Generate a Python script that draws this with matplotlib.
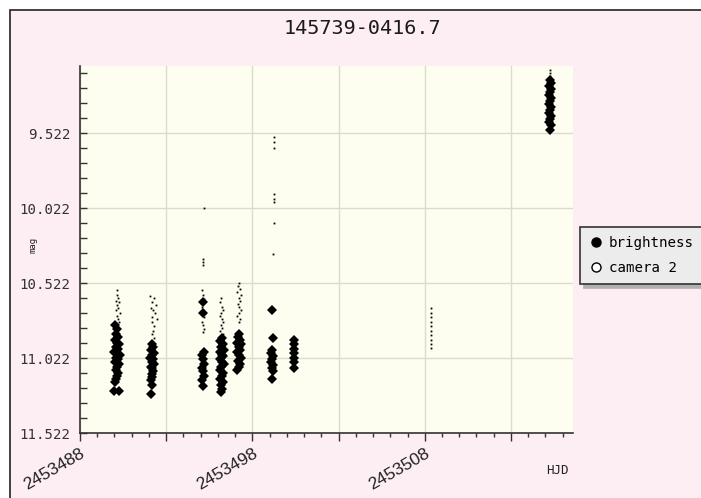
import matplotlib
matplotlib.use("Agg")
import matplotlib.pyplot as plt
from matplotlib.patches import Rectangle
from matplotlib.lines import Line2D
from matplotlib.ticker import MultipleLocator, FuncFormatter

# Photometry of 145739-0416.7
brightness_hjd = [
    2453490.05, 2453490.15, 2453490.10, 2453490.20, 2453490.05, 2453490.15, 2453490.25, 2453490.10,
    2453490.20, 2453490.00, 2453490.15, 2453490.30, 2453490.10, 2453490.20, 2453490.05, 2453490.25,
    2453490.15, 2453490.10, 2453490.20, 2453490.15, 2453490.10, 2453490.05, 2453490.00, 2453490.25,
    2453492.15, 2453492.25, 2453492.10, 2453492.30, 2453492.20, 2453492.05, 2453492.25, 2453492.15,
    2453492.30, 2453492.10, 2453492.20, 2453492.25, 2453492.15, 2453492.20, 2453492.10, 2453492.20, 2453492.10,
    2453495.15, 2453495.15, 2453495.20, 2453495.10, 2453495.15, 2453495.20, 2453495.10, 2453495.15,
    2453495.20, 2453495.10, 2453495.15,
    2453496.25, 2453496.15, 2453496.30, 2453496.20, 2453496.35, 2453496.10, 2453496.25, 2453496.30,
    2453496.15, 2453496.25, 2453496.35, 2453496.20, 2453496.10, 2453496.30, 2453496.25, 2453496.15,
    2453496.30, 2453496.20, 2453496.25, 2453496.20,
    2453497.25, 2453497.15, 2453497.30, 2453497.10, 2453497.35, 2453497.20, 2453497.30, 2453497.10,
    2453497.25, 2453497.35, 2453497.15, 2453497.30, 2453497.20, 2453497.10,
    2453499.15, 2453499.20, 2453499.15, 2453499.10, 2453499.20, 2453499.15, 2453499.10, 2453499.20,
    2453499.15, 2453499.20, 2453499.15,
    2453500.40, 2453500.40, 2453500.40, 2453500.40, 2453500.40, 2453500.40, 2453500.40,
    2453515.25, 2453515.30, 2453515.20, 2453515.30, 2453515.25, 2453515.20, 2453515.30, 2453515.25,
    2453515.20, 2453515.30, 2453515.25, 2453515.20, 2453515.30, 2453515.25, 2453515.20, 2453515.30, 2453515.25,
]
brightness_mag = [
    10.80, 10.83, 10.86, 10.88, 10.90, 10.92, 10.93, 10.95,
    10.96, 10.98, 10.99, 11.00, 11.02, 11.03, 11.05, 11.06,
    11.08, 11.10, 11.12, 11.14, 11.16, 11.18, 11.24, 11.24,
    10.93, 10.95, 10.97, 10.99, 11.00, 11.02, 11.03, 11.05,
    11.06, 11.08, 11.09, 11.11, 11.13, 11.15, 11.17, 11.20, 11.26,
    10.65, 10.72, 10.98, 11.00, 11.03, 11.06, 11.09, 11.11,
    11.14, 11.17, 11.21,
    10.89, 10.91, 10.93, 10.95, 10.97, 10.98, 11.00, 11.01,
    11.03, 11.05, 11.06, 11.08, 11.10, 11.12, 11.14, 11.16,
    11.18, 11.20, 11.23, 11.25,
    10.86, 10.88, 10.90, 10.92, 10.93, 10.95, 10.97, 10.98,
    11.00, 11.02, 11.04, 11.06, 11.08, 11.10,
    10.70, 10.89, 10.97, 10.99, 11.01, 11.03, 11.05, 11.07,
    11.09, 11.11, 11.16,
    10.90, 10.93, 10.96, 10.99, 11.02, 11.05, 11.09,
    9.17, 9.19, 9.21, 9.23, 9.25, 9.27, 9.29, 9.31,
    9.33, 9.35, 9.37, 9.39, 9.41, 9.43, 9.45, 9.47, 9.50,
]

camera2_hjd = [
    2453490.15, 2453490.15, 2453490.20, 2453490.10, 2453490.25, 2453490.15, 2453490.20, 2453490.10,
    2453490.30, 2453490.15, 2453490.20, 2453490.25, 2453490.10, 2453490.20,
    2453492.05, 2453492.30, 2453492.15, 2453492.40, 2453492.10, 2453492.25, 2453492.35, 2453492.20,
    2453492.45, 2453492.15, 2453492.30, 2453492.25, 2453492.20, 2453492.30, 2453492.25,
    2453495.20, 2453495.15, 2453495.15, 2453495.15,
    2453495.10, 2453495.15, 2453495.20, 2453495.10, 2453495.15, 2453495.20, 2453495.10, 2453495.15,
    2453495.20, 2453495.15,
    2453496.20, 2453496.15, 2453496.25, 2453496.30, 2453496.20, 2453496.15, 2453496.25, 2453496.30,
    2453496.20, 2453496.25, 2453496.15, 2453496.30, 2453496.25,
    2453497.25, 2453497.15, 2453497.30, 2453497.10, 2453497.35, 2453497.20, 2453497.30, 2453497.15,
    2453497.25, 2453497.35, 2453497.20, 2453497.10, 2453497.30, 2453497.25,
    2453499.25, 2453499.25, 2453499.25, 2453499.25, 2453499.25, 2453499.25, 2453499.25, 2453499.20,
    2453508.35, 2453508.35, 2453508.35, 2453508.35, 2453508.35, 2453508.35, 2453508.35, 2453508.35,
    2453508.35, 2453508.35,
    2453515.25, 2453515.25, 2453515.25,
]
camera2_mag = [
    10.57, 10.60, 10.62, 10.64, 10.65, 10.67, 10.69, 10.70,
    10.72, 10.74, 10.76, 10.78, 10.80, 10.82,
    10.61, 10.62, 10.65, 10.67, 10.69, 10.70, 10.72, 10.75,
    10.76, 10.78, 10.81, 10.84, 10.86, 10.89, 10.92,
    10.02, 10.36, 10.38, 10.40,
    10.57, 10.60, 10.63, 10.68, 10.70, 10.75, 10.78, 10.80,
    10.83, 10.85,
    10.62, 10.65, 10.68, 10.70, 10.72, 10.74, 10.76, 10.78,
    10.80, 10.82, 10.84, 10.86, 10.88,
    10.52, 10.54, 10.56, 10.58, 10.60, 10.62, 10.64, 10.66,
    10.68, 10.70, 10.72, 10.74, 10.76, 10.78,
    9.55, 9.58, 9.62, 9.93, 9.96, 9.98, 10.12, 10.33,
    10.69, 10.72, 10.75, 10.78, 10.81, 10.84, 10.87, 10.90,
    10.93, 10.955,
    9.10, 9.12, 9.14,
]

title = "145739-0416.7"
x_major_ticks = [2453488, 2453493, 2453498, 2453503, 2453508, 2453513]
x_tick_labels = ["2453488", "", "2453498", "", "2453508", ""]

W, H = 701, 498
fig = plt.figure(figsize=(W / 100, H / 100), dpi=100)
fig.patch.set_facecolor("white")

# pink panel with a dark frame
panel = Rectangle((10 / W, -0.1), 1.2, 1.1 - 10 / H, transform=fig.transFigure,
                  facecolor="#fdeef3", edgecolor="#222222", linewidth=1.2, zorder=-10)
fig.patches.append(panel)

ax = fig.add_axes([80 / W, 1 - 433 / H, (573 - 80) / W, (433 - 66) / H])
ax.set_facecolor("#fefef0")

ax.plot(camera2_hjd, camera2_mag, linestyle="none", marker="s", markersize=1.3,
        markeredgewidth=0, color="black", zorder=3)
ax.plot(brightness_hjd, brightness_mag, linestyle="none", marker="D", markersize=4.6,
        markeredgewidth=0, color="black", zorder=4)

ax.set_xlim(2453488, 2453516.6)
ax.set_ylim(11.522, 9.075)

ax.set_xticks(x_major_ticks)
ax.set_xticklabels(x_tick_labels, rotation=30, ha="right", va="top",
                   rotation_mode="anchor", fontfamily="Liberation Sans",
                   fontsize=12.5, color="#222222")
ax.xaxis.set_minor_locator(MultipleLocator(1))
ax.yaxis.set_major_locator(MultipleLocator(0.5, offset=0.022))
ax.yaxis.set_minor_locator(MultipleLocator(0.1, offset=0.022))
ax.yaxis.set_major_formatter(FuncFormatter(lambda v, p: f"{v:.3f}"))

ax.grid(True, which="major", color="#d9dccb", linewidth=1.0)
ax.set_axisbelow(True)

for s in ("top", "right"):
    ax.spines[s].set_visible(False)
for s in ("left", "bottom"):
    ax.spines[s].set_color("#333333")
    ax.spines[s].set_linewidth(1.2)

ax.tick_params(axis="y", which="both", direction="in", length=5, width=1, color="#333333",
               labelsize=10.2, pad=7, labelcolor="#333333")
ax.tick_params(axis="x", which="major", direction="out", length=6, width=1, color="#333333",
               pad=3)
ax.tick_params(axis="x", which="minor", direction="out", length=3, width=1, color="#333333")
for lab in ax.get_yticklabels():
    lab.set_fontfamily("DejaVu Sans Mono")

fig.text(362 / W, 1 - 28 / H, title, ha="center", va="center", fontsize=14.5,
         family="DejaVu Sans Mono", color="#1a1a1a")
fig.text(557 / W, 1 - 470 / H, "HJD", ha="center", va="center", fontsize=9,
         family="DejaVu Sans Mono", color="#222222")
fig.text(33 / W, 1 - 245 / H, "mag", ha="center", va="center", fontsize=6.5, rotation=90,
         family="DejaVu Sans Mono", color="#222222")

handles = [
    Line2D([], [], linestyle="none", marker="o", markersize=6.5, color="black"),
    Line2D([], [], linestyle="none", marker="o", markersize=6.5, markerfacecolor="white",
           markeredgecolor="black", markeredgewidth=1),
]
leg = fig.legend(handles, ["brightness", "camera 2"], loc="upper left",
                 bbox_to_anchor=(580 / W, 1 - 227 / H), frameon=True, fancybox=False,
                 shadow={"ox": 3, "oy": -3, "color": "#b0b0b0", "alpha": 1},
                 prop={"family": "DejaVu Sans Mono", "size": 10.2},
                 handletextpad=0.5, borderpad=0.65, labelspacing=0.75, handlelength=0.9,
                 borderaxespad=0)
leg.get_frame().set_facecolor("#ececec")
leg.get_frame().set_edgecolor("#333333")
leg.get_frame().set_linewidth(1.2)
leg.get_frame().set_alpha(1)

fig.savefig("out.png", dpi=100, facecolor=fig.get_facecolor())
